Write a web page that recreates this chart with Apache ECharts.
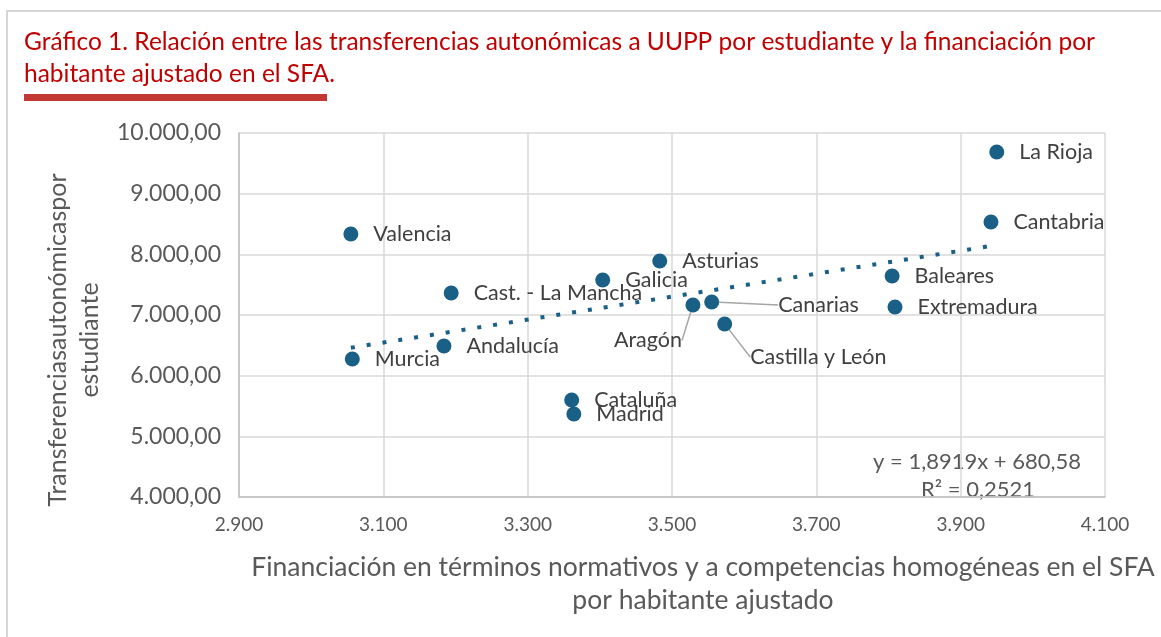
<!DOCTYPE html>
<html>
<head>
<meta charset="utf-8">
<script src="https://cdn.jsdelivr.net/npm/echarts@6/dist/echarts.min.js"></script>
<style>
  html, body { margin: 0; padding: 0; background: #fff; }
  #chart { width: 1161px; height: 637px; }
</style>
</head>
<body>
<div id="chart"></div>
<script>
const regions = ['La Rioja', 'Cantabria', 'Baleares', 'Extremadura', 'Valencia', 'Asturias', 'Galicia',
  'Cast. - La Mancha', 'Aragón', 'Canarias', 'Castilla y León', 'Andalucía', 'Murcia', 'Cataluña', 'Madrid']
const financiacion = [3950, 3942, 3805, 3809, 3055, 3483, 3404, 3194, 3529, 3555, 3573, 3184, 3057, 3361, 3364]
const transferencias = [9687, 8533, 7643, 7132, 8335, 7890, 7577, 7363, 7165, 7214, 6852, 6489, 6275, 5599, 5368]
const xTicks = [2900, 3100, 3300, 3500, 3700, 3900, 4100]
const slope = 1.8919
const intercept = 680.58
const r2 = 0.2521

const colors = {
  point: '#1a5f86',
  title: '#c00000',
  bar: '#c23934',
  grid: '#d9d9d9',
  axis: '#bfbfbf',
  text: '#595959',
  label: '#404040',
  leader: '#a6a6a6',
}
const font = 'Lato, "Open Sans", sans-serif'

// labels that Excel moved away from the marker (offset from the default spot)
const labelShift = {
  'Canarias': { dx: 44, dy: 3 },
  'Aragón': { dx: -45, dy: 2 },
  'Castilla y León': { dx: 3, dy: 33 },
}

function fmtNum(n, decimals) {
  const [i, d] = n.toFixed(decimals).split('.')
  const s = i.replace(/\B(?=(\d{3})+(?!\d))/g, '.')
  return d ? s + ',' + d : s
}

const points = regions.map((name, i) => {
  const item = { name, value: [financiacion[i], transferencias[i]] }
  if (name === 'Aragón') item.label = { position: 'bottom' }
  if (labelShift[name]) item.labelLine = { show: true, lineStyle: { color: colors.leader, width: 1.5 } }
  return item
})

const xMin = Math.min(...financiacion)
const xMax = Math.max(...financiacion)
const trend = [xMin, xMax].map((x) => [x, slope * x + intercept])

const chart = echarts.init(document.getElementById('chart'), null, { renderer: 'canvas' })

chart.setOption({
  animation: false,
  title: {
    left: 24,
    top: 26,
    padding: 0,
    text: 'Gráfico 1. Relación entre las transferencias autonómicas a UUPP por estudiante y la financiación por\nhabitante ajustado en el SFA.',
    textStyle: { color: colors.title, fontWeight: 'normal', fontSize: 24.5, lineHeight: 32, fontFamily: font },
  },
  graphic: [
    { type: 'rect', silent: true, shape: { x: 7, y: 11, width: 1200, height: 700 },
      style: { fill: 'none', stroke: '#d6d6d6', lineWidth: 2 } },
    { type: 'rect', silent: true, shape: { x: 24, y: 94, width: 303, height: 7 }, style: { fill: colors.bar } },
    { type: 'text', silent: true, x: 977, y: 462,
      style: { text: 'y = ' + fmtNum(slope, 4) + 'x + ' + fmtNum(intercept, 2), fill: colors.text,
        font: '22px ' + font, align: 'center', verticalAlign: 'middle' } },
    { type: 'text', silent: true, x: 978, y: 490,
      style: { text: 'R² = ' + fmtNum(r2, 4), fill: colors.text,
        font: '22px ' + font, align: 'center', verticalAlign: 'middle' } },
  ],
  grid: { left: 239, right: 56, top: 133, bottom: 140 },
  xAxis: {
    type: 'value',
    min: 2900,
    max: 4100,
    name: 'Financiación en términos normativos y a competencias homogéneas en el SFA\npor habitante ajustado',
    nameLocation: 'middle',
    nameGap: 54,
    nameTextStyle: { color: colors.text, fontSize: 26.5, lineHeight: 33, fontFamily: font, padding: [0, 0, 0, 62] },
    axisLine: { lineStyle: { color: colors.axis, width: 1.5 } },
    axisTick: { show: false, customValues: xTicks },
    axisLabel: { customValues: xTicks, color: colors.text, fontSize: 19, margin: 18, fontFamily: font,
      formatter: (v) => fmtNum(v, 0) },
    splitLine: { lineStyle: { color: colors.grid, width: 1.5 } },
  },
  yAxis: {
    type: 'value',
    min: 4000,
    max: 10000,
    interval: 1000,
    name: 'Transferenciasautonómicaspor\nestudiante',
    nameLocation: 'middle',
    nameGap: 133,
    nameTextStyle: { color: colors.text, fontSize: 25, lineHeight: 32, fontFamily: font, padding: [0, 50, 0, 0] },
    axisLine: { show: true, lineStyle: { color: colors.axis, width: 1.5 } },
    axisTick: { show: false },
    axisLabel: { color: colors.text, fontSize: 23, margin: 18, fontFamily: font,
      formatter: (v) => fmtNum(v, 2) },
    splitLine: { lineStyle: { color: colors.grid, width: 1.5 } },
  },
  series: [
    {
      name: 'Tendencia',
      type: 'line',
      data: trend,
      symbol: 'none',
      silent: true,
      lineStyle: { color: colors.point, width: 4, type: [4, 12] },
      z: 1,
    },
    {
      name: 'CCAA',
      type: 'scatter',
      data: points,
      symbolSize: 15,
      itemStyle: { color: colors.point, opacity: 1 },
      label: {
        show: true,
        position: 'right',
        distance: 15,
        formatter: '{b}',
        color: colors.label,
        fontSize: 21.5,
        fontFamily: font,
      },
      labelLayout: (p) => labelShift[regions[p.dataIndex]] || {},
      z: 3,
    },
  ],
})
</script>
</body>
</html>
